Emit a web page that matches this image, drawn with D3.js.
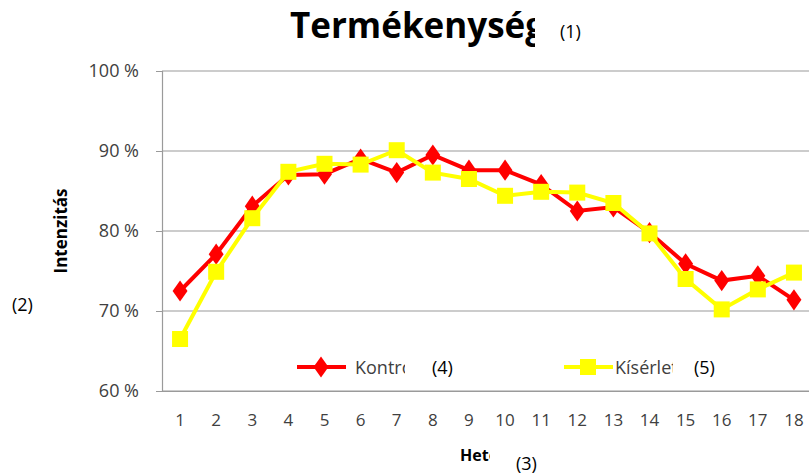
<!DOCTYPE html>
<html lang="hu">
<head>
<meta charset="utf-8">
<title>Termékenység</title>
<script src="https://d3js.org/d3.v7.min.js"></script>
<style>
  body { margin: 0; background: #fff; }
  text { font-family: "Open Sans", "DejaVu Sans", sans-serif; }
</style>
</head>
<body>
<script>
// weeks and series
var weeks = [1,2,3,4,5,6,7,8,9,10,11,12,13,14,15,16,17,18];
var kontroll = [72.5,77.1,83.1,87.0,87.1,89.0,87.3,89.5,87.6,87.6,85.8,82.5,83.0,79.8,75.9,73.8,74.4,71.4];
var kiserleti = [66.5,74.9,81.6,87.4,88.4,88.3,90.1,87.3,86.5,84.4,84.9,84.8,83.5,79.7,74.0,70.2,72.7,74.8];
var yTicks = [60,70,80,90,100];

var width = 809, height = 474;
var svg = d3.select("body").append("svg")
    .attr("width", width)
    .attr("height", height);

var x = d3.scaleBand().domain(weeks).range([162, 812]);
var y = d3.scaleLinear().domain([60, 100]).range([391, 71]);

// gridlines
svg.append("g")
    .selectAll("line")
    .data(yTicks)
    .enter().append("line")
    .attr("x1", 162).attr("x2", width)
    .attr("y1", function(d) { return y(d); })
    .attr("y2", function(d) { return y(d); })
    .attr("stroke", "#9a9a9a")
    .attr("stroke-width", 1.2);

// y axis
var yAxis = svg.append("g")
    .attr("transform", "translate(162,0)")
    .call(d3.axisLeft(y).tickValues(yTicks).tickSize(6).tickPadding(17)
        .tickFormat(function(d) { return d + " %"; }));
yAxis.select(".domain").attr("stroke", "#9a9a9a").attr("stroke-width", 1.2);
yAxis.selectAll(".tick line").attr("stroke", "#9a9a9a");
yAxis.selectAll("text").style("font-size", "18px").attr("fill", "#404040")
    .style("font-family", "Open Sans, sans-serif");

// x axis
var xAxis = svg.append("g")
    .attr("transform", "translate(0,391)")
    .call(d3.axisBottom(x).tickSize(0).tickPadding(23));
xAxis.select(".domain").attr("stroke", "#9a9a9a").attr("stroke-width", 1.2);
xAxis.selectAll("text").style("font-size", "17px").attr("fill", "#404040")
    .style("font-family", "Open Sans, sans-serif");

function cx(d, i) { return x(weeks[i]) + x.bandwidth() / 2; }

var line = d3.line()
    .x(function(d, i) { return cx(d, i); })
    .y(function(d) { return y(d); });

// Kontroll (red, diamonds)
svg.append("path")
    .datum(kontroll)
    .attr("d", line)
    .attr("fill", "none")
    .attr("stroke", "#ff0000")
    .attr("stroke-width", 4);

svg.append("g").selectAll("path")
    .data(kontroll)
    .enter().append("path")
    .attr("d", d3.symbol().type(d3.symbolDiamond).size(160))
    .attr("transform", function(d, i) {
        return "translate(" + cx(d, i) + "," + y(d) + ") scale(1.1,0.9)";
    })
    .attr("fill", "#ff0000");

// Kísérleti (yellow, squares)
svg.append("path")
    .datum(kiserleti)
    .attr("d", line)
    .attr("fill", "none")
    .attr("stroke", "#ffff00")
    .attr("stroke-width", 4);

svg.append("g").selectAll("rect")
    .data(kiserleti)
    .enter().append("rect")
    .attr("x", function(d, i) { return cx(d, i) - 8; })
    .attr("y", function(d) { return y(d) - 8; })
    .attr("width", 16).attr("height", 16)
    .attr("fill", "#ffff00");

// clip paths for the cut-off labels
var defs = svg.append("defs");
function clip(id, x0, x1) {
    defs.append("clipPath").attr("id", id)
        .append("rect").attr("x", x0).attr("y", 0).attr("width", x1 - x0).attr("height", height);
}
clip("c-title", 0, 535);
clip("c-k", 0, 405);
clip("c-s", 0, 673);
clip("c-x", 0, 490);

// title
svg.append("text")
    .attr("x", 290).attr("y", 38)
    .attr("clip-path", "url(#c-title)")
    .style("font-size", "35px").style("font-weight", "bold")
    .attr("fill", "#000")
    .text("Termékenység");
svg.append("text").attr("x", 560).attr("y", 38)
    .style("font-size", "18px").text("(1)");

// axis titles
svg.append("text")
    .attr("transform", "translate(67,231) rotate(-90)")
    .attr("text-anchor", "middle")
    .style("font-size", "17px").style("font-weight", "bold")
    .text("Intenzitás");
svg.append("text").attr("x", 12).attr("y", 311)
    .style("font-size", "18px").text("(2)");

svg.append("text")
    .attr("x", 460).attr("y", 461)
    .attr("clip-path", "url(#c-x)")
    .style("font-size", "16px").style("font-weight", "bold")
    .text("Hetek");
svg.append("text").attr("x", 516).attr("y", 470)
    .style("font-size", "18px").text("(3)");

// legend
var lg = svg.append("g");
lg.append("line").attr("x1", 297).attr("x2", 346).attr("y1", 367).attr("y2", 367)
    .attr("stroke", "#ff0000").attr("stroke-width", 4);
lg.append("path").attr("d", d3.symbol().type(d3.symbolDiamond).size(160))
    .attr("transform", "translate(321,367) scale(1.1,0.9)").attr("fill", "#ff0000");
lg.append("text").attr("x", 355).attr("y", 374).attr("clip-path", "url(#c-k)")
    .style("font-size", "18px").attr("fill", "#404040").text("Kontroll");
lg.append("text").attr("x", 432).attr("y", 374)
    .style("font-size", "18px").text("(4)");

lg.append("line").attr("x1", 564).attr("x2", 613).attr("y1", 367).attr("y2", 367)
    .attr("stroke", "#ffff00").attr("stroke-width", 4);
lg.append("rect").attr("x", 580).attr("y", 359).attr("width", 16).attr("height", 16)
    .attr("fill", "#ffff00");
lg.append("text").attr("x", 615).attr("y", 374).attr("clip-path", "url(#c-s)")
    .style("font-size", "18px").attr("fill", "#404040").text("Kísérleti");
lg.append("text").attr("x", 694).attr("y", 374)
    .style("font-size", "18px").text("(5)");
</script>
</body>
</html>
